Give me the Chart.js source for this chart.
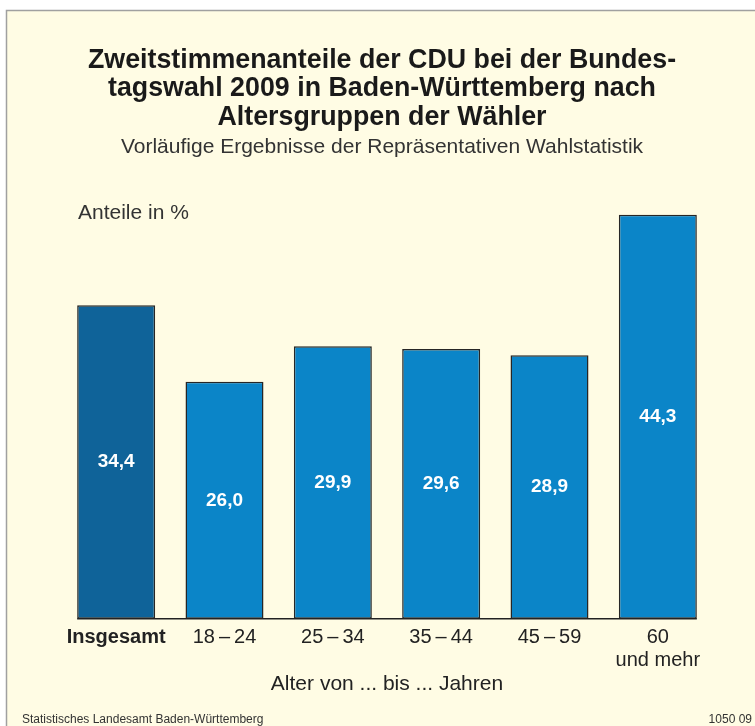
<!DOCTYPE html>
<html>
<head>
<meta charset="utf-8">
<script src="https://cdn.jsdelivr.net/npm/chart.js@4"></script>
<style>
  html, body { margin: 0; padding: 0; background: #fff; }
  #wrap { width: 755px; height: 726px; }
</style>
</head>
<body>
<div id="wrap"><canvas id="chart1" width="755" height="726"></canvas></div>
<script>
// Daten: CDU-Zweitstimmenanteile nach Altersgruppen (in %)
var categories = ["Insgesamt", "18\u2009–\u200924", "25\u2009–\u200934", "35\u2009–\u200944", "45\u2009–\u200959", ["60", "und mehr"]];
var anteile = [34.4, 26.0, 29.9, 29.6, 28.9, 44.3];
var labelsWerte = ["34,4", "26,0", "29,9", "29,6", "28,9", "44,3"];

var FONT = "'Liberation Sans', Arial, Helvetica, sans-serif";
var CREAM = "#fffce4";

// Hintergrund, Rahmen, Beschriftungen
const decor = {
  id: "decor",
  beforeDraw(chart) {
    const c = chart.ctx;
    c.save();
    c.fillStyle = "#fff";
    c.fillRect(0, 0, chart.width, chart.height);
    c.fillStyle = CREAM;
    c.fillRect(6, 10, chart.width - 6, chart.height - 10);
    c.strokeStyle = "#a0a0a0";
    c.lineWidth = 1.5;
    c.beginPath();
    c.moveTo(6.5, chart.height);
    c.lineTo(6.5, 10.5);
    c.lineTo(chart.width, 10.5);
    c.stroke();
    c.restore();
  },
  afterDatasetsDraw(chart) {
    const c = chart.ctx;
    const meta = chart.getDatasetMeta(0);
    c.save();
    // Werte in den Balken
    c.fillStyle = "#fff";
    c.font = "bold 19px " + FONT;
    c.textAlign = "center";
    c.textBaseline = "middle";
    meta.data.forEach((bar, i) => {
      c.fillText(labelsWerte[i], bar.x, (bar.y + bar.base) / 2);
    });
    // Grundlinie
    const first = meta.data[0], last = meta.data[meta.data.length - 1];
    c.strokeStyle = "#222";
    c.lineWidth = 1.5;
    c.beginPath();
    c.moveTo(first.x - first.width / 2, first.base);
    c.lineTo(last.x + last.width / 2, last.base);
    c.stroke();
    // Einheit
    c.fillStyle = "#333";
    c.font = "21px " + FONT;
    c.textAlign = "left";
    c.fillText("Anteile in %", 78, 213);
    // Quelle
    c.font = "12px " + FONT;
    c.fillStyle = "#333";
    c.fillText("Statistisches Landesamt Baden-Württemberg", 22, 720);
    c.textAlign = "right";
    c.fillText("1050 09", 752, 720);
    c.restore();
  }
};

var chartCDU;

window.addEventListener("load", function() {
  const ctx1 = document.getElementById("chart1");

  chartCDU = new Chart(ctx1, {
    type: "bar",
    data: {
      labels: categories,
      datasets: [{
        label: "CDU",
        data: anteile,
        backgroundColor: ["#0f6399", "#0b85c8", "#0b85c8", "#0b85c8", "#0b85c8", "#0b85c8"],
        borderColor: "#262626",
        borderWidth: 1.5,
        borderSkipped: false,
        categoryPercentage: 0.72,
        barPercentage: 1.0,
      }],
    },
    options: {
      responsive: false,
      animation: false,
      layout: {
        padding: {left: 52, right: 43, top: 0, bottom: 25},
      },
      scales: {
        x: {
          grid: {display: false, drawTicks: false},
          border: {display: false},
          ticks: {
            color: "#222",
            padding: 7,
            maxRotation: 0,
            autoSkip: false,
            font: (ctx) => ({family: FONT, size: 20, weight: ctx.index === 0 ? "bold" : "normal", lineHeight: 1.15}),
          },
          title: {
            display: true,
            text: "Alter von ... bis ... Jahren",
            color: "#222",
            font: {family: FONT, size: 21, lineHeight: 1.15},
            padding: {top: -7, bottom: 5},
          },
        },
        y: {
          display: true,
          min: 0,
          max: 48,
          ticks: {display: false},
          grid: {display: false},
          border: {display: false},
          afterFit: (scale) => { scale.width = 10; },
        },
      },
      plugins: {
        legend: {display: false},
        tooltip: {enabled: false},
        title: {
          display: true,
          text: ["Zweitstimmenanteile der CDU bei der Bundes-", "tagswahl 2009 in Baden-Württemberg nach", "Altersgruppen der Wähler"],
          color: "#1a1a1a",
          font: {family: FONT, size: 26.8, weight: "bold", lineHeight: 1.063},
          padding: {top: 46, bottom: 3.5},
        },
        subtitle: {
          display: true,
          text: "Vorläufige Ergebnisse der Repräsentativen Wahlstatistik",
          color: "#333",
          font: {family: FONT, size: 21, lineHeight: 1.15},
          padding: {top: 0, bottom: 22},
        },
      },
    },
    plugins: [decor],
  });
});
</script>
</body>
</html>
